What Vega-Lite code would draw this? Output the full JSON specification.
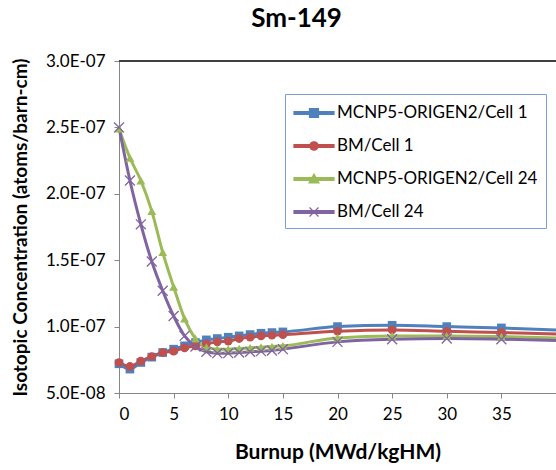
{
  "$schema": "https://vega.github.io/schema/vega-lite/v6.json",
  "width": 437,
  "height": 332,
  "autosize": {"type": "none"},
  "padding": {"left": 119, "top": 61, "right": 0, "bottom": 77},
  "background": "white",
  "config": {
    "view": {"stroke": null},
    "font": "Lato"
  },
  "title": {
    "text": "Sm-149",
    "fontSize": 26,
    "fontWeight": "bold",
    "font": "Lato",
    "color": "#000000",
    "anchor": "middle",
    "dx": -41,
    "offset": 20
  },
  "data": {
    "values": [
      {"series": "MCNP5-ORIGEN2/Cell 1", "burnup": 0, "conc": 7.2e-8},
      {"series": "MCNP5-ORIGEN2/Cell 1", "burnup": 1, "conc": 6.8e-8},
      {"series": "MCNP5-ORIGEN2/Cell 1", "burnup": 2, "conc": 7.3e-8},
      {"series": "MCNP5-ORIGEN2/Cell 1", "burnup": 3, "conc": 7.7e-8},
      {"series": "MCNP5-ORIGEN2/Cell 1", "burnup": 4, "conc": 8.05e-8},
      {"series": "MCNP5-ORIGEN2/Cell 1", "burnup": 5, "conc": 8.3e-8},
      {"series": "MCNP5-ORIGEN2/Cell 1", "burnup": 6, "conc": 8.55e-8},
      {"series": "MCNP5-ORIGEN2/Cell 1", "burnup": 7, "conc": 8.8e-8},
      {"series": "MCNP5-ORIGEN2/Cell 1", "burnup": 8, "conc": 9.0e-8},
      {"series": "MCNP5-ORIGEN2/Cell 1", "burnup": 9, "conc": 9.1e-8},
      {"series": "MCNP5-ORIGEN2/Cell 1", "burnup": 10, "conc": 9.2e-8},
      {"series": "MCNP5-ORIGEN2/Cell 1", "burnup": 11, "conc": 9.3e-8},
      {"series": "MCNP5-ORIGEN2/Cell 1", "burnup": 12, "conc": 9.4e-8},
      {"series": "MCNP5-ORIGEN2/Cell 1", "burnup": 13, "conc": 9.5e-8},
      {"series": "MCNP5-ORIGEN2/Cell 1", "burnup": 14, "conc": 9.55e-8},
      {"series": "MCNP5-ORIGEN2/Cell 1", "burnup": 15, "conc": 9.6e-8},
      {"series": "MCNP5-ORIGEN2/Cell 1", "burnup": 20, "conc": 10.0e-8},
      {"series": "MCNP5-ORIGEN2/Cell 1", "burnup": 25, "conc": 10.1e-8},
      {"series": "MCNP5-ORIGEN2/Cell 1", "burnup": 30, "conc": 10.0e-8},
      {"series": "MCNP5-ORIGEN2/Cell 1", "burnup": 35, "conc": 9.9e-8},
      {"series": "MCNP5-ORIGEN2/Cell 1", "burnup": 40, "conc": 9.75e-8},

      {"series": "BM/Cell 1", "burnup": 0, "conc": 7.3e-8},
      {"series": "BM/Cell 1", "burnup": 1, "conc": 7.0e-8},
      {"series": "BM/Cell 1", "burnup": 2, "conc": 7.4e-8},
      {"series": "BM/Cell 1", "burnup": 3, "conc": 7.75e-8},
      {"series": "BM/Cell 1", "burnup": 4, "conc": 8.05e-8},
      {"series": "BM/Cell 1", "burnup": 5, "conc": 8.15e-8},
      {"series": "BM/Cell 1", "burnup": 6, "conc": 8.4e-8},
      {"series": "BM/Cell 1", "burnup": 7, "conc": 8.55e-8},
      {"series": "BM/Cell 1", "burnup": 8, "conc": 8.7e-8},
      {"series": "BM/Cell 1", "burnup": 9, "conc": 8.85e-8},
      {"series": "BM/Cell 1", "burnup": 10, "conc": 8.9e-8},
      {"series": "BM/Cell 1", "burnup": 11, "conc": 9.1e-8},
      {"series": "BM/Cell 1", "burnup": 12, "conc": 9.2e-8},
      {"series": "BM/Cell 1", "burnup": 13, "conc": 9.3e-8},
      {"series": "BM/Cell 1", "burnup": 14, "conc": 9.35e-8},
      {"series": "BM/Cell 1", "burnup": 15, "conc": 9.4e-8},
      {"series": "BM/Cell 1", "burnup": 20, "conc": 9.65e-8},
      {"series": "BM/Cell 1", "burnup": 25, "conc": 9.75e-8},
      {"series": "BM/Cell 1", "burnup": 30, "conc": 9.65e-8},
      {"series": "BM/Cell 1", "burnup": 35, "conc": 9.55e-8},
      {"series": "BM/Cell 1", "burnup": 40, "conc": 9.45e-8},

      {"series": "MCNP5-ORIGEN2/Cell 24", "burnup": 0, "conc": 24.9e-8},
      {"series": "MCNP5-ORIGEN2/Cell 24", "burnup": 1, "conc": 22.7e-8},
      {"series": "MCNP5-ORIGEN2/Cell 24", "burnup": 2, "conc": 21.0e-8},
      {"series": "MCNP5-ORIGEN2/Cell 24", "burnup": 3, "conc": 18.7e-8},
      {"series": "MCNP5-ORIGEN2/Cell 24", "burnup": 4, "conc": 15.6e-8},
      {"series": "MCNP5-ORIGEN2/Cell 24", "burnup": 5, "conc": 13.0e-8},
      {"series": "MCNP5-ORIGEN2/Cell 24", "burnup": 6, "conc": 10.6e-8},
      {"series": "MCNP5-ORIGEN2/Cell 24", "burnup": 7, "conc": 9.1e-8},
      {"series": "MCNP5-ORIGEN2/Cell 24", "burnup": 8, "conc": 8.45e-8},
      {"series": "MCNP5-ORIGEN2/Cell 24", "burnup": 9, "conc": 8.3e-8},
      {"series": "MCNP5-ORIGEN2/Cell 24", "burnup": 10, "conc": 8.3e-8},
      {"series": "MCNP5-ORIGEN2/Cell 24", "burnup": 11, "conc": 8.35e-8},
      {"series": "MCNP5-ORIGEN2/Cell 24", "burnup": 12, "conc": 8.4e-8},
      {"series": "MCNP5-ORIGEN2/Cell 24", "burnup": 13, "conc": 8.45e-8},
      {"series": "MCNP5-ORIGEN2/Cell 24", "burnup": 14, "conc": 8.5e-8},
      {"series": "MCNP5-ORIGEN2/Cell 24", "burnup": 15, "conc": 8.55e-8},
      {"series": "MCNP5-ORIGEN2/Cell 24", "burnup": 20, "conc": 9.15e-8},
      {"series": "MCNP5-ORIGEN2/Cell 24", "burnup": 25, "conc": 9.3e-8},
      {"series": "MCNP5-ORIGEN2/Cell 24", "burnup": 30, "conc": 9.3e-8},
      {"series": "MCNP5-ORIGEN2/Cell 24", "burnup": 35, "conc": 9.25e-8},
      {"series": "MCNP5-ORIGEN2/Cell 24", "burnup": 40, "conc": 9.15e-8},

      {"series": "BM/Cell 24", "burnup": 0, "conc": 25.0e-8},
      {"series": "BM/Cell 24", "burnup": 1, "conc": 21.0e-8},
      {"series": "BM/Cell 24", "burnup": 2, "conc": 17.7e-8},
      {"series": "BM/Cell 24", "burnup": 3, "conc": 14.9e-8},
      {"series": "BM/Cell 24", "burnup": 4, "conc": 12.7e-8},
      {"series": "BM/Cell 24", "burnup": 5, "conc": 10.8e-8},
      {"series": "BM/Cell 24", "burnup": 6, "conc": 9.3e-8},
      {"series": "BM/Cell 24", "burnup": 7, "conc": 8.5e-8},
      {"series": "BM/Cell 24", "burnup": 8, "conc": 8.1e-8},
      {"series": "BM/Cell 24", "burnup": 9, "conc": 8.0e-8},
      {"series": "BM/Cell 24", "burnup": 10, "conc": 8.0e-8},
      {"series": "BM/Cell 24", "burnup": 11, "conc": 8.05e-8},
      {"series": "BM/Cell 24", "burnup": 12, "conc": 8.1e-8},
      {"series": "BM/Cell 24", "burnup": 13, "conc": 8.15e-8},
      {"series": "BM/Cell 24", "burnup": 14, "conc": 8.2e-8},
      {"series": "BM/Cell 24", "burnup": 15, "conc": 8.3e-8},
      {"series": "BM/Cell 24", "burnup": 20, "conc": 8.85e-8},
      {"series": "BM/Cell 24", "burnup": 25, "conc": 9.05e-8},
      {"series": "BM/Cell 24", "burnup": 30, "conc": 9.1e-8},
      {"series": "BM/Cell 24", "burnup": 35, "conc": 9.05e-8},
      {"series": "BM/Cell 24", "burnup": 40, "conc": 8.95e-8}
    ]
  },
  "encoding": {
    "x": {
      "field": "burnup",
      "type": "quantitative",
      "scale": {"domain": [0, 40], "nice": false, "zero": false},
      "axis": {
        "title": "Burnup (MWd/kgHM)",
        "values": [0, 5, 10, 15, 20, 25, 30, 35],
        "grid": false,
        "domainColor": "#868686",
        "tickColor": "#868686",
        "tickSize": 5,
        "labelFont": "Lato",
        "labelFontSize": 17,
        "labelColor": "#000000",
        "labelPadding": 8,
        "titleFont": "Lato",
        "titleFontSize": 21,
        "titleFontWeight": "bold",
        "titleColor": "#000000",
        "titlePadding": 19
      }
    },
    "y": {
      "field": "conc",
      "type": "quantitative",
      "scale": {"domain": [5e-8, 3e-7], "nice": false, "zero": false},
      "axis": {
        "title": "Isotopic Concentration (atoms/barn-cm)",
        "values": [5e-8, 1e-7, 1.5e-7, 2e-7, 2.5e-7, 3e-7],
        "labelExpr": "replace(format(datum.value, '.1e'), 'e-', 'E-0')",
        "grid": false,
        "domainColor": "#868686",
        "tickColor": "#868686",
        "tickSize": 5,
        "labelFont": "Lato",
        "labelFontSize": 17,
        "labelColor": "#000000",
        "labelPadding": 9,
        "titleFont": "Lato",
        "titleFontSize": 19,
        "titleFontWeight": "bold",
        "titleColor": "#000000",
        "titlePadding": 15
      }
    }
  },
  "layer": [
    {
      "mark": {"type": "rule", "color": "#404040", "strokeWidth": 1},
      "encoding": {"y": {"datum": 3e-7}, "x": {"datum": 0}, "x2": {"datum": 40}}
    },
    {
      "mark": {"type": "line", "strokeWidth": 3, "interpolate": "monotone"},
      "encoding": {
        "color": {
          "field": "series",
          "type": "nominal",
          "sort": ["MCNP5-ORIGEN2/Cell 1", "BM/Cell 1", "MCNP5-ORIGEN2/Cell 24", "BM/Cell 24"],
          "scale": {
            "domain": ["MCNP5-ORIGEN2/Cell 1", "BM/Cell 1", "MCNP5-ORIGEN2/Cell 24", "BM/Cell 24"],
            "range": ["#4F81BD", "#C0504D", "#9BBB59", "#8064A2"]
          },
          "legend": {
            "title": null,
            "orient": "none",
            "legendX": 166,
            "legendY": 33,
            "padding": 8,
            "strokeColor": "#7BA0D4",
            "fillColor": "#FFFFFF",
            "labelFont": "Lato",
            "labelFontSize": 17,
            "labelColor": "#000000",
            "labelLimit": 300,
            "symbolSize": 400,
            "symbolOffset": 10,
            "labelOffset": 12,
            "rowPadding": 14,
            "encode": {
              "symbols": {
                "update": {
                  "shape": {"signal": "datum.value === 'MCNP5-ORIGEN2/Cell 1' ? 'M-2,-0.13H2V0.13H-2Z M-0.45,-0.45H0.45V0.45H-0.45Z' : datum.value === 'BM/Cell 1' ? 'M-2,-0.13H2V0.13H-2Z M-0.42,0A0.42,0.42,0,1,1,0.42,0A0.42,0.42,0,1,1,-0.42,0Z' : datum.value === 'MCNP5-ORIGEN2/Cell 24' ? 'M-2,-0.13H2V0.13H-2Z M0,-0.5L0.5,0.4H-0.5Z' : 'M-2,-0.13H2V0.13H-2Z M-0.45,-0.45L0.45,0.45M-0.45,0.45L0.45,-0.45'"},
                  "fill": {"signal": "scale('color', datum.value)"},
                  "stroke": {"signal": "scale('color', datum.value)"},
                  "strokeWidth": {"value": 1.2},
                  "opacity": {"value": 1}
                }
              }
            }
          }
        }
      }
    },
    {
      "mark": {"type": "point", "filled": true, "size": 75, "opacity": 1, "shape": "square", "color": "#4F81BD"},
      "transform": [{"filter": "datum.series === 'MCNP5-ORIGEN2/Cell 1' && datum.burnup <= 35"}]
    },
    {
      "mark": {"type": "point", "filled": true, "size": 75, "opacity": 1, "shape": "circle", "color": "#C0504D"},
      "transform": [{"filter": "datum.series === 'BM/Cell 1' && datum.burnup <= 35"}]
    },
    {
      "mark": {"type": "point", "filled": true, "size": 80, "opacity": 1, "shape": "triangle-up", "color": "#9BBB59"},
      "transform": [{"filter": "datum.series === 'MCNP5-ORIGEN2/Cell 24' && datum.burnup <= 35"}]
    },
    {
      "mark": {"type": "point", "filled": false, "size": 75, "opacity": 1, "strokeWidth": 1.3, "shape": "M-1.15,-1.15L1.15,1.15M-1.15,1.15L1.15,-1.15", "color": "#8064A2"},
      "transform": [{"filter": "datum.series === 'BM/Cell 24' && datum.burnup <= 35"}]
    }
  ]
}
